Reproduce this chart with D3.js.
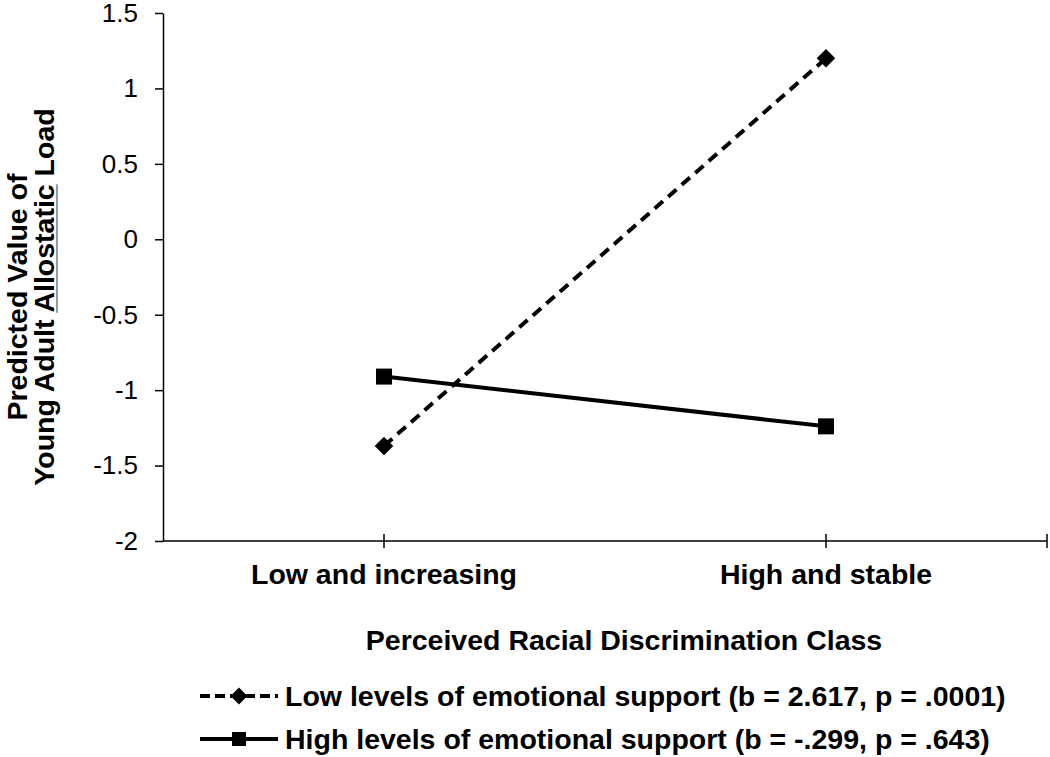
<!DOCTYPE html>
<html>
<head>
<meta charset="utf-8">
<script src="https://cdn.jsdelivr.net/npm/d3@7"></script>
<style>
  body { margin: 0; background: #fff; }
  text { font-family: "Liberation Sans", Arial, sans-serif; fill: #000; }
  .axis path, .axis line { stroke: #000; stroke-width: 1.5; }
</style>
</head>
<body>
<div id="chart"></div>
<script>
// datos
const categories = ["Low and increasing", "High and stable"];
const lowSupport = [-1.37, 1.2];
const highSupport = [-0.91, -1.24];
const yTicks = [-2, -1.5, -1, -0.5, 0, 0.5, 1, 1.5];
const seriesNames = [
  "Low levels of emotional support (b = 2.617, p = .0001)",
  "High levels of emotional support (b = -.299, p = .643)"
];

const W = 1050, H = 757;
const margin = { top: 13, right: 3, bottom: 216, left: 163 };
const boldSize = "28.5px";

const svg = d3.select("#chart").append("svg")
  .attr("width", W).attr("height", H);

// escalas
const x = d3.scaleBand().domain(categories).range([margin.left, W - margin.right]);
const y = d3.scaleLinear().domain([-2, 1.5]).range([H - margin.bottom, margin.top]);
const cx = d => x(d) + x.bandwidth() / 2;

// eje y
const yAxis = svg.append("g")
  .attr("class", "axis")
  .attr("transform", `translate(${margin.left},0)`)
  .call(d3.axisLeft(y).tickValues(yTicks).tickSize(8).tickSizeOuter(0).tickPadding(17)
    .tickFormat(d => String(d)));
yAxis.selectAll("text").style("font-size", "26px");

// eje x (marcas cruzadas en cada categoria y al final)
const y0 = y(-2);
const xAxis = svg.append("g").attr("class", "axis");
xAxis.append("line")
  .attr("x1", margin.left).attr("x2", W - margin.right)
  .attr("y1", y0).attr("y2", y0);
xAxis.selectAll(".tick")
  .data(categories.map(cx).concat([W - margin.right]))
  .enter().append("line")
  .attr("x1", d => d).attr("x2", d => d)
  .attr("y1", y0 - 7).attr("y2", y0 + 7);
xAxis.selectAll(".catlab")
  .data(categories)
  .enter().append("text")
  .attr("x", cx).attr("y", 584)
  .attr("text-anchor", "middle")
  .style("font-size", boldSize).style("font-weight", "bold")
  .text(d => d);

// titulo eje x
svg.append("text")
  .attr("x", 624).attr("y", 650)
  .attr("text-anchor", "middle")
  .style("font-size", boldSize).style("font-weight", "bold")
  .text("Perceived Racial Discrimination Class");

// titulo eje y (dos lineas, "Allostatic" subrayado)
svg.append("text")
  .attr("transform", "translate(27,297) rotate(-90)")
  .attr("text-anchor", "middle")
  .style("font-size", boldSize).style("font-weight", "bold")
  .text("Predicted Value of");
const yt2g = svg.append("g").attr("transform", "translate(54,297) rotate(-90)");
const yt2 = yt2g.append("text")
  .attr("text-anchor", "middle")
  .style("font-size", boldSize).style("font-weight", "bold")
  .text("Young Adult Allostatic Load");
const s = "Young Adult Allostatic Load".indexOf("Allostatic");
const n = yt2.node();
const ux1 = n.getStartPositionOfChar(s).x;
const ux2 = n.getEndPositionOfChar(s + "Allostatic".length - 1).x;
yt2g.append("line")
  .attr("x1", ux1).attr("x2", ux2).attr("y1", 3).attr("y2", 3)
  .attr("stroke", "#999").attr("stroke-width", 2);

// lineas
const line = d3.line().x((d, i) => cx(categories[i])).y(d => y(d));
svg.append("path").datum(lowSupport)
  .attr("d", line).attr("fill", "none").attr("stroke", "#000")
  .attr("stroke-width", 4).attr("stroke-dasharray", "11,7");
svg.append("path").datum(highSupport)
  .attr("d", line).attr("fill", "none").attr("stroke", "#000")
  .attr("stroke-width", 4);

const diamond = d3.symbol().type(d3.symbolDiamond2).size(220);
const square = d3.symbol().type(d3.symbolSquare).size(256);

svg.selectAll(".dia").data(lowSupport).enter().append("path")
  .attr("d", diamond)
  .attr("transform", (d, i) => `translate(${cx(categories[i])},${y(d)})`)
  .attr("fill", "#000");
svg.selectAll(".sq").data(highSupport).enter().append("path")
  .attr("d", square)
  .attr("transform", (d, i) => `translate(${cx(categories[i])},${y(d)})`)
  .attr("fill", "#000");

// leyenda
const legY = [696, 739];
const leg = svg.selectAll(".leg").data(seriesNames).enter().append("g")
  .attr("transform", (d, i) => `translate(0,${legY[i]})`);
leg.append("line")
  .attr("x1", 200).attr("x2", 278).attr("y1", 0).attr("y2", 0)
  .attr("stroke", "#000").attr("stroke-width", 4)
  .attr("stroke-dasharray", (d, i) => i === 0 ? "10,5" : null);
leg.append("path")
  .attr("d", (d, i) => i === 0 ? d3.symbol().type(d3.symbolDiamond2).size(180)() : d3.symbol().type(d3.symbolSquare).size(196)())
  .attr("transform", "translate(239,0)")
  .attr("fill", "#000");
leg.append("text")
  .attr("x", 285).attr("y", 10)
  .style("font-size", boldSize).style("font-weight", "bold")
  .text(d => d);
</script>
</body>
</html>
